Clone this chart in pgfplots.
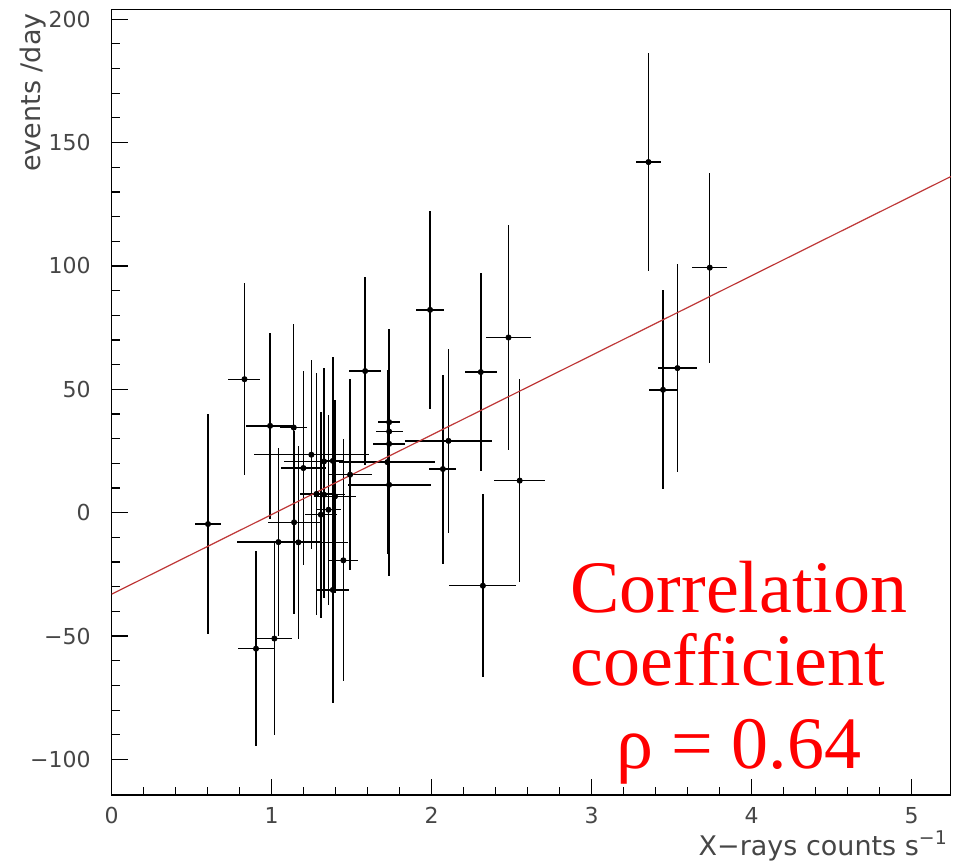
\documentclass[border=0pt]{standalone}
\usepackage{pgfplots}
\pgfplotsset{compat=1.18}
\usepackage{pgfplotstable}
\usepackage{fontspec}
\setmainfont{DejaVu Sans}
\newfontfamily\serifred{Liberation Serif}
\definecolor{fitred}{RGB}{190,55,55}
\definecolor{txtgray}{RGB}{70,70,70}
\pgfplotstableread{
x y ex ey
0.602 -4.6 0.08 44.5
0.83 54.1 0.1 39
0.99 35.2 0.15 37.8
1.138 34.5 0.085 42
1.248 23.5 0.36 38.2
1.198 18.1 0.14 39.4
1.327 20.8 0.25 37.8
1.382 21.0 0.07 42
1.723 20.5 0.3 37.4
1.584 57.4 0.1 38.2
1.734 36.7 0.07 37.7
1.734 32.9 0.085 37
1.734 27.9 0.1 37
1.734 11.3 0.26 37
1.49 15.4 0.14 38.7
1.28 7.6 0.1 49
1.327 7.3 0.13 42
1.396 6.6 0.13 39
1.355 1.2 0.08 38.5
1.307 -0.8 0.1 41.8
1.14 -3.9 0.16 37
1.042 -11.9 0.26 38
1.167 -12.0 0.31 39
0.902 -55.1 0.115 39.5
1.017 -51 0.11 39
1.382 -31.3 0.1 45.7
1.448 -19.3 0.09 49
1.99 82.2 0.086 40
2.48 71 0.14 45.5
2.307 57 0.1 40
2.105 29.1 0.27 37.2
2.07 17.7 0.085 38.3
2.55 13 0.16 41
2.32 -29.6 0.21 37.1
3.355 142.1 0.076 44
3.738 99.3 0.11 38.5
3.536 58.6 0.12 42
3.446 49.8 0.09 40.3
}\datatable
\begin{document}
\begin{tikzpicture}
\begin{axis}[
  name=ax,
  width=419.5pt, height=392.85pt, scale only axis,
  xmin=0, xmax=5.244, ymin=-114.4, ymax=204,
  xtick={0,1,2,3,4,5},
  ytick={-100,-50,0,50,100,150,200},
  yticklabels={−100,−50,0,50,100,150,200},
  minor x tick num=4, minor y tick num=4,
  tick align=inside, xtick pos=left, ytick pos=left,
  major tick length=8pt, minor tick length=4pt,
  axis line style={line width=0.65pt, black},
  every tick/.style={line width=0.6pt, black},
  /pgf/number format/assume math mode=true,
  ticklabel style={font=\fontsize{11}{13}\selectfont, text=txtgray},
  yticklabel style={xshift=-7pt},
  xticklabel style={yshift=-2.5pt},
  xlabel={X−rays counts s\textsuperscript{−1}},
  ylabel={events /day},
  xlabel style={font=\fontsize{13.5}{16}\selectfont, text=txtgray, at={(rel axis cs:0.997,-0.0764)}, anchor=base east, inner sep=0pt},
  ylabel style={font=\fontsize{13.5}{16}\selectfont, text=txtgray, at={(rel axis cs:-0.1093,0.9953)}, anchor=north east, inner sep=0pt},
  clip=false,
]
\addplot[only marks, mark=*, mark size=1.3pt, black,
  error bars/.cd, x dir=both, x explicit, y dir=both, y explicit,
  error mark=none, error bar style={line width=0.7pt, black}]
  table[x=x, y=y, x error=ex, y error=ey] {\datatable};
\addplot[fitred, line width=0.6pt] coordinates {(0,-33) (5.244,136.2)};
\node[text=red, font=\serifred\fontsize{37}{40}\selectfont, anchor=base] at (axis cs:3.92,-40.3) {Correlation};
\node[text=red, font=\serifred\fontsize{37}{40}\selectfont, anchor=base] at (axis cs:3.85,-69.9) {coefficient};
\node[text=red, font=\serifred\fontsize{37}{40}\selectfont, anchor=base] at (axis cs:3.92,-103.5) {ρ = 0.64};
\end{axis}
\path ([xshift=-55.85pt,yshift=-33.5pt]ax.south west) rectangle ([xshift=7.65pt,yshift=4.65pt]ax.north east);
\end{tikzpicture}
\end{document}
